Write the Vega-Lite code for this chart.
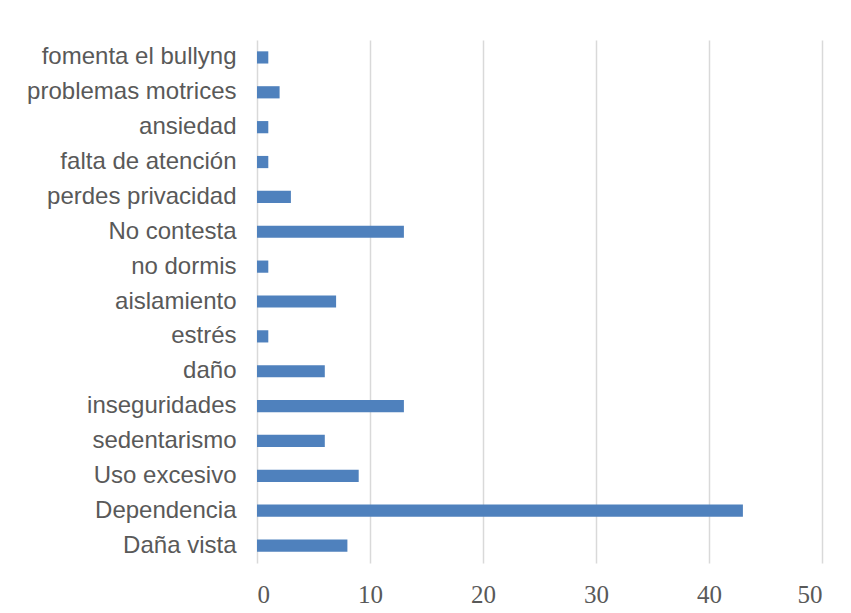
{
  "$schema": "https://vega.github.io/schema/vega-lite/v6.json",
  "autosize": {"type": "none"},
  "padding": {"left": 257, "top": 40, "right": 29, "bottom": 50},
  "width": 565,
  "height": 523,
  "background": "white",
  "config": {"view": {"stroke": null}},
  "data": {
    "values": [
      {"cat": "fomenta el bullyng", "v": 1},
      {"cat": "problemas motrices", "v": 2},
      {"cat": "ansiedad", "v": 1},
      {"cat": "falta de atención", "v": 1},
      {"cat": "perdes privacidad", "v": 3},
      {"cat": "No contesta", "v": 13},
      {"cat": "no dormis", "v": 1},
      {"cat": "aislamiento", "v": 7},
      {"cat": "estrés", "v": 1},
      {"cat": "daño", "v": 6},
      {"cat": "inseguridades", "v": 13},
      {"cat": "sedentarismo", "v": 6},
      {"cat": "Uso excesivo", "v": 9},
      {"cat": "Dependencia", "v": 43},
      {"cat": "Daña vista", "v": 8}
    ]
  },
  "mark": {"type": "bar", "color": "#4F81BD"},
  "encoding": {
    "y": {
      "field": "cat", "type": "nominal", "sort": null,
      "scale": {"paddingInner": 0.65, "paddingOuter": 0.325},
      "axis": {
        "title": null, "domain": false, "ticks": false, "grid": false,
        "labelFont": "Liberation Sans", "labelFontSize": 24, "labelColor": "#595959",
        "labelPadding": 21, "labelLimit": 400
      }
    },
    "x": {
      "field": "v", "type": "quantitative",
      "scale": {"domain": [0, 50], "nice": false},
      "axis": {
        "title": null, "domain": false, "ticks": false, "values": [0, 10, 20, 30, 40, 50],
        "grid": true, "gridColor": "#D9D9D9", "gridWidth": 1.5,
        "labelFont": "Liberation Serif", "labelFontSize": 25, "labelColor": "#595959",
        "labelPadding": 19
      }
    }
  }
}
